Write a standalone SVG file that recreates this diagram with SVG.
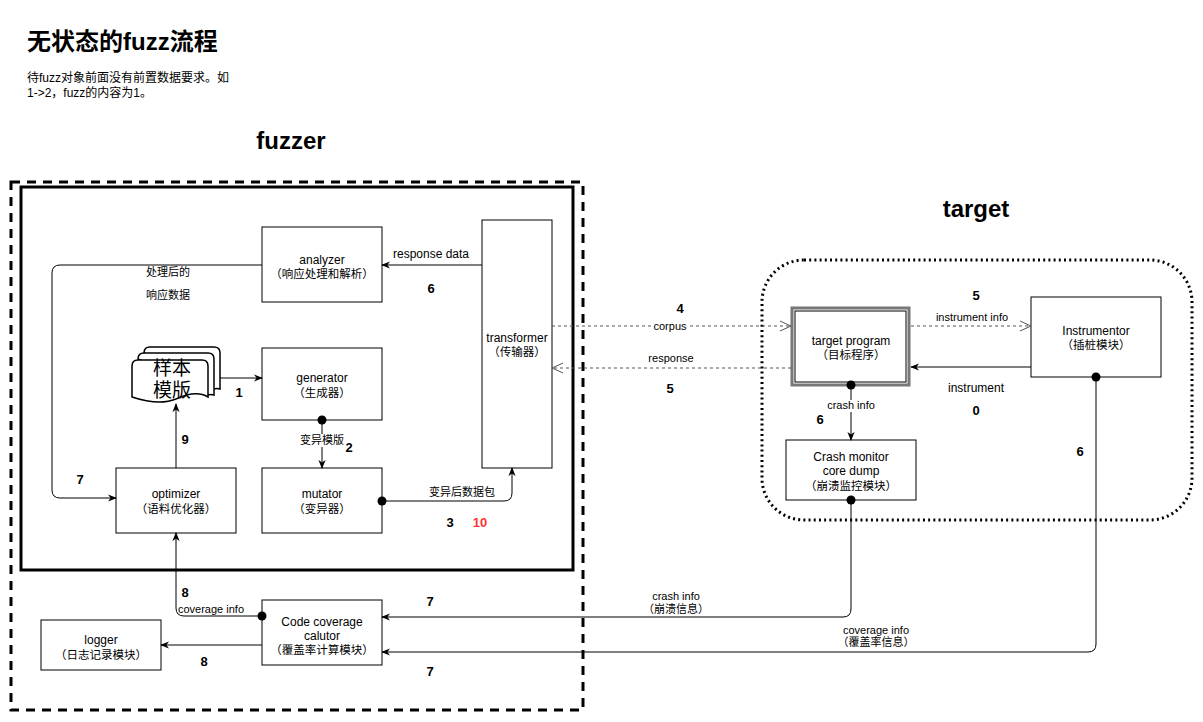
<svg xmlns="http://www.w3.org/2000/svg" width="1203" height="722" viewBox="0 0 1203 722">
<style>
text{font-family:"Liberation Sans","Noto Sans CJK SC",sans-serif;fill:#000}
.t{font-size:12px;text-anchor:middle}
.c{font-size:11.5px;text-anchor:middle}
.n{font-size:13px;font-weight:bold;text-anchor:middle}
.box{fill:#fff;stroke:#000;stroke-width:1}
.e{fill:none;stroke:#000;stroke-width:1}
.d{fill:none;stroke:#555;stroke-width:1;stroke-dasharray:3 3}
.lbl{font-size:11px;text-anchor:middle}
.doc{fill:#fff;stroke:#000;stroke-width:1.5}
</style>
<defs>
<marker id="a" viewBox="0 0 10 10" refX="9" refY="5" markerWidth="9" markerHeight="9" orient="auto" markerUnits="userSpaceOnUse"><path d="M0,1 L10,5 L0,9 L3,5 z" fill="#000"/></marker>
<marker id="o" viewBox="0 0 12 12" refX="11" refY="6" markerWidth="12" markerHeight="12" orient="auto" markerUnits="userSpaceOnUse"><path d="M0,1 L11,6 L0,11" fill="none" stroke="#555" stroke-width="1"/></marker>
<marker id="dot" viewBox="0 0 10 10" refX="5" refY="5" markerWidth="10" markerHeight="10" markerUnits="userSpaceOnUse"><circle cx="5" cy="5" r="4.5" fill="#000"/></marker>
</defs>
<rect width="1203" height="722" fill="#fff"/>

<text x="27" y="50" style="font-size:24px;font-weight:bold">无状态的fuzz流程</text>
<text x="27" y="82" style="font-size:12px">待fuzz对象前面没有前置数据要求。如</text>
<text x="27" y="97" style="font-size:12px">1-&gt;2，fuzz的内容为1。</text>
<text x="291" y="149" style="font-size:24px;font-weight:bold;text-anchor:middle">fuzzer</text>
<text x="976" y="217" style="font-size:24px;font-weight:bold;text-anchor:middle">target</text>

<g id="fuzzer-container">
<rect x="11" y="182" width="572" height="528" fill="none" stroke="#000" stroke-width="3" stroke-dasharray="9 7"/>
<rect x="21" y="187" width="552" height="383" fill="none" stroke="#000" stroke-width="3"/>
</g>
<g id="target-container">
<rect x="762" y="260" width="430" height="260" rx="42" fill="none" stroke="#000" stroke-width="3" stroke-dasharray="2 3.2"/>
</g>

<g id="analyzer"><rect class="box" x="262" y="227" width="120" height="75"/><text class="t" x="322" y="264">analyzer</text><text class="c" x="322" y="278">（响应处理和解析）</text></g>
<g id="transformer"><rect class="box" x="482" y="220" width="70" height="248"/><text class="t" x="517" y="342">transformer</text><text class="c" x="517" y="356">（传输器）</text></g>
<g id="generator"><rect class="box" x="262" y="348" width="120" height="72"/><text class="t" x="322" y="382">generator</text><text class="c" x="322" y="397">（生成器）</text></g>
<g id="mutator"><rect class="box" x="262" y="468" width="120" height="65"/><text class="t" x="322" y="498">mutator</text><text class="c" x="322" y="513">（变异器）</text></g>
<g id="optimizer"><rect class="box" x="116" y="468" width="120" height="65"/><text class="t" x="176" y="498">optimizer</text><text class="c" x="176" y="513">（语料优化器）</text></g>
<g id="sample-template">
<path class="doc" d="M144,353 q0,-6 6,-6 h64 q6,0 6,6 v36 c-3,-1 -4,-1 -6,0 z"/>
<path class="doc" d="M138,359 q0,-6 6,-6 h64 q6,0 6,6 v36 c-3,-1 -4,-1 -6,0 z"/>
<path class="doc" d="M132,366 q0,-6 6,-6 h64 q6,0 6,6 v31 c-10,-6 -21,-3 -32,2 c-12,5 -26,4 -44,-2 z"/>
<text x="172" y="375" style="font-size:19px;text-anchor:middle">样本</text>
<text x="172" y="397" style="font-size:19px;text-anchor:middle">模版</text>
</g>
<g id="code-coverage"><rect class="box" x="262" y="600" width="120" height="65"/><text class="t" x="322" y="626">Code coverage</text><text class="t" x="322" y="640">calutor</text><text class="c" x="322" y="654">（覆盖率计算模块）</text></g>
<g id="logger"><rect class="box" x="41" y="620" width="120" height="50"/><text class="t" x="101" y="644">logger</text><text class="c" x="101" y="659">（日志记录模块）</text></g>
<g id="target-program"><rect x="792" y="308" width="117" height="77" fill="#fff" stroke="#777" stroke-width="3"/><rect x="795" y="311" width="111" height="71" fill="none" stroke="#000" stroke-width="1"/><text class="t" x="851" y="345">target program</text><text class="c" x="851" y="359">（目标程序）</text></g>
<g id="instrumentor"><rect class="box" x="1031" y="297" width="130" height="80"/><text class="t" x="1096" y="335">Instrumentor</text><text class="c" x="1096" y="349">（插桩模块）</text></g>
<g id="crash-monitor"><rect class="box" x="786" y="440" width="130" height="60"/><text class="t" x="851" y="461">Crash monitor</text><text class="t" x="851" y="475">core dump</text><text class="c" x="851" y="490">（崩溃监控模块）</text></g>

<g id="connectors">
<path class="e" d="M482,265 H382" marker-end="url(#a)"/>
<path class="e" d="M262,265 H60 Q52,265 52,273 V490 Q52,498 60,498 H116" marker-end="url(#a)"/>
<path class="e" d="M220,378 H262" marker-end="url(#a)"/>
<path class="e" d="M322,420 V468" marker-start="url(#dot)" marker-end="url(#a)"/>
<path class="e" d="M382,501 H504 Q512,501 512,493 V468" marker-start="url(#dot)" marker-end="url(#a)"/>
<path class="e" d="M176,468 V404" marker-end="url(#a)"/>
<path class="e" d="M262,616 H184 Q176,616 176,608 V533" marker-start="url(#dot)" marker-end="url(#a)"/>
<path class="e" d="M262,645 H161" marker-end="url(#a)"/>
<path class="d" d="M552,326 H791" marker-end="url(#o)"/>
<path class="d" d="M791,368 H552" marker-end="url(#o)"/>
<path class="d" d="M911,326 H1031" marker-end="url(#o)"/>
<path class="e" d="M1031,367 H911" marker-end="url(#a)"/>
<path class="e" d="M851,385 V440" marker-start="url(#dot)" marker-end="url(#a)"/>
<path class="e" d="M851,500 V609 Q851,617 843,617 H382" marker-start="url(#dot)" marker-end="url(#a)"/>
<path class="e" d="M1096,377 V644 Q1096,652 1088,652 H382" marker-start="url(#dot)" marker-end="url(#a)"/>
</g>

<g id="edge-labels">
<text x="431" y="258" style="font-size:12px;text-anchor:middle">response data</text>
<text class="n" x="431" y="293">6</text>
<text class="lbl" x="168" y="276">处理后的</text>
<text class="lbl" x="168" y="299">响应数据</text>
<text class="n" x="80" y="484">7</text>
<text class="n" x="239" y="397">1</text>
<rect x="298" y="434" width="48" height="13" fill="#fff"/>
<text class="lbl" x="322" y="444">变异模版</text>
<text class="n" x="349" y="452">2</text>
<text class="lbl" x="462" y="496">变异后数据包</text>
<text class="n" x="450" y="527">3</text>
<text class="n" x="480" y="527" style="fill:#ff3333">10</text>
<text class="n" x="185" y="444">9</text>
<text class="n" x="185" y="597">8</text>
<text class="lbl" x="211" y="613">coverage info</text>
<text class="n" x="204" y="666">8</text>
<text class="n" x="680" y="313">4</text>
<rect x="652" y="321" width="36" height="11" fill="#fff"/>
<text class="lbl" x="670" y="330">corpus</text>
<text class="lbl" x="671" y="362">response</text>
<text class="n" x="670" y="393">5</text>
<text class="n" x="976" y="300">5</text>
<text class="lbl" x="972" y="321">instrument info</text>
<text class="t" x="976" y="392">instrument</text>
<text class="n" x="976" y="415">0</text>
<rect x="825" y="400" width="52" height="12" fill="#fff"/>
<text class="lbl" x="851" y="409">crash info</text>
<text class="n" x="820" y="424">6</text>
<text class="n" x="1080" y="456">6</text>
<text class="lbl" x="676" y="600">crash info</text>
<text class="lbl" x="676" y="613">（崩溃信息）</text>
<text class="n" x="430" y="606">7</text>
<text class="lbl" x="876" y="634">coverage info</text>
<text class="lbl" x="876" y="646">（覆盖率信息）</text>
<text class="n" x="430" y="676">7</text>
</g>
</svg>
